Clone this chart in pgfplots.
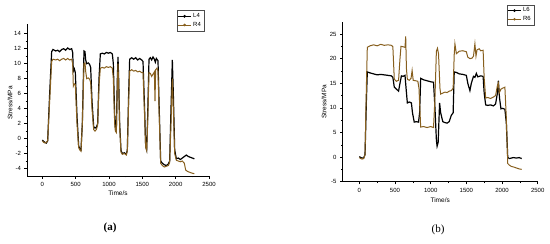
\documentclass[border=0pt]{standalone}
\usepackage{pgfplots}
\pgfplotsset{compat=1.18}
\usepackage{fontspec}
\setmainfont{Liberation Sans}
\newfontfamily\seriffont{Liberation Serif}
\definecolor{rbrown}{RGB}{135,95,30}
\pgfplotsset{
  common/.style={
    scale only axis,
    axis x line*=bottom, axis y line*=left,
    tick align=outside,
    major tick length=2.6pt, minor tick length=1.4pt,
    minor x tick num=1, minor y tick num=1,
    tick style={black, line width=0.5pt},
    axis line style={black, line width=0.6pt},
    ticklabel style={font=\fontsize{6}{7}\selectfont},
    /pgf/number format/assume math mode=true,
    /pgf/number format/1000 sep={},
    xlabel={Time/s}, ylabel={Stress/MPa},
    label style={font=\fontsize{6.5}{7}\selectfont},
    legend style={font=\fontsize{6}{6.5}\selectfont, draw=black!70, line width=0.4pt,
      inner sep=1pt, row sep=-1pt, cells={anchor=west}},
    legend cell align=left,
    legend image code/.code={\draw[#1,line width=0.5pt] (0,0) -- (0.45cm,0); \fill[#1] (0.225cm,0) circle (0.7pt);},
  },
  lser/.style={black, line width=1.2pt, mark=none},
  rser/.style={rbrown, line width=1.0pt, mark=none},
}
\begin{document}
\begin{tikzpicture}
\path[use as bounding box] (0,0) rectangle (550pt,244pt);
% ---------- (a)
\begin{axis}[common,
  at={(27pt,68pt)}, anchor=south west,
  width=182pt, height=152pt,
  xmin=-230, xmax=2500, ymin=-5, ymax=15.3,
  xtick={0,500,...,2500}, ytick={-4,-2,...,14},
  xlabel style={at={(axis description cs:0.5,-0.112)}, anchor=center},
  ylabel style={at={(axis description cs:-0.093,0.48)}, anchor=center},
  legend style={at={(rel axis cs:0.973,1.09)}, anchor=north east},
]
\addplot[lser] coordinates {(0,-0.2)(20,-0.4)(40,-0.5)(60,-0.6)(80,-0.3)(110,6)(140,11.6)(160,11.9)(200,11.7)(230,11.8)(260,11.6)(290,11.9)(320,12.0)(350,11.8)(380,12.1)(410,11.9)(440,12.0)(455,11.5)(465,9.0)(480,9.3)(495,8.8)(520,3)(545,-1.0)(560,-1.3)(580,-1.5)(600,2)(625,11.7)(640,11.6)(650,10.5)(665,10.0)(690,10.1)(710,9.9)(725,9.5)(745,5)(770,1.6)(790,1.4)(810,1.5)(830,2)(850,8)(870,11.3)(900,11.4)(930,11.3)(960,11.5)(990,11.4)(1020,11.5)(1050,11.3)(1065,10)(1085,3)(1095,1.5)(1110,1.2)(1125,8)(1135,10.9)(1145,8)(1160,2)(1180,-1.6)(1200,-2.0)(1230,-1.9)(1260,-2.1)(1275,-1.5)(1295,6)(1310,10.6)(1340,10.8)(1370,10.6)(1400,10.8)(1430,10.5)(1460,10.7)(1490,10.5)(1510,10.3)(1530,5)(1550,-1.0)(1565,-1.5)(1580,3)(1600,10.6)(1620,10.8)(1640,10.5)(1660,10.9)(1680,10.6)(1695,10.2)(1710,10.7)(1735,10.4)(1750,5)(1775,-3.0)(1800,-3.3)(1830,-3.5)(1860,-3.6)(1890,-3.4)(1910,-3.0)(1930,4)(1950,10.5)(1965,6)(1985,-1.5)(2010,-2.7)(2040,-2.6)(2070,-2.8)(2100,-2.6)(2130,-2.4)(2160,-2.2)(2190,-2.4)(2220,-2.5)(2250,-2.6)(2280,-2.7)};
\addlegendentry{L4}
\addplot[rser] coordinates {(0,-0.3)(20,-0.5)(40,-0.6)(60,-0.5)(80,-0.3)(110,5)(140,10.3)(160,10.6)(200,10.5)(230,10.6)(260,10.4)(290,10.6)(320,10.7)(350,10.5)(380,10.7)(410,10.5)(440,10.6)(455,10)(465,7.0)(480,7.3)(495,7.2)(520,2)(545,-1.2)(560,-1.5)(580,-1.7)(600,2)(625,10.0)(640,10.1)(650,9)(665,8.0)(690,8.1)(710,7.9)(725,7.5)(745,4)(770,1.2)(790,1.0)(810,1.2)(830,1.8)(850,7)(870,9.4)(900,9.5)(930,9.4)(960,9.6)(990,9.5)(1020,9.6)(1050,9.4)(1065,8)(1085,2)(1095,1.0)(1110,0.8)(1125,7)(1135,10.0)(1145,7)(1160,1.5)(1180,-1.8)(1200,-2.1)(1230,-2.0)(1260,-2.2)(1275,-1.6)(1295,5)(1310,9.0)(1340,9.2)(1370,9.0)(1400,9.1)(1430,8.9)(1460,9.0)(1490,8.8)(1510,8.8)(1530,4)(1550,-1.2)(1565,-1.6)(1580,2)(1600,8.8)(1620,8.7)(1640,8.3)(1660,8.6)(1680,8.9)(1690,5.0)(1700,9.2)(1720,9.4)(1735,9.0)(1750,4)(1775,-3.3)(1800,-3.6)(1830,-3.8)(1860,-3.7)(1890,-3.6)(1910,-3.2)(1930,2)(1950,8.0)(1965,4)(1985,-2)(2010,-2.9)(2040,-3.0)(2070,-3.1)(2100,-3.0)(2130,-3.3)(2150,-4.2)(2180,-4.4)(2210,-4.5)(2240,-4.6)(2280,-4.7)};
\addlegendentry{R4}
\end{axis}
\node[font=\seriffont\bfseries\fontsize{11}{12}\selectfont] at (110pt,16pt) {(a)};
% ---------- (b)
\begin{axis}[common,
  at={(342.7pt,62.3pt)}, anchor=south west,
  width=195pt, height=160pt,
  xmin=-233, xmax=2500, ymin=-5, ymax=27.5,
  xtick={0,500,...,2500}, ytick={-5,0,...,25},
  xlabel style={at={(axis description cs:0.5,-0.114)}, anchor=center},
  ylabel style={at={(axis description cs:-0.096,0.5)}, anchor=center},
  legend style={at={(rel axis cs:0.981,1.107)}, anchor=north east},
]
\addplot[lser] coordinates {(0,0.1)(20,-0.1)(40,-0.2)(60,-0.2)(80,0.5)(100,12)(112,17.3)(150,17.1)(200,16.9)(250,16.7)(300,16.8)(350,16.7)(400,16.6)(450,16.5)(470,16.2)(490,14.2)(520,13.8)(550,13.4)(570,15)(590,16.5)(615,16.4)(640,16.6)(655,14)(673,11.0)(700,11.2)(730,11.0)(745,9)(770,7.1)(800,7.2)(830,7.1)(845,9)(860,16.0)(900,15.7)(950,15.5)(1000,15.3)(1040,15.2)(1060,10)(1080,3.5)(1090,2.2)(1105,3)(1125,11)(1140,9)(1170,7.2)(1200,7.0)(1230,6.9)(1260,7.2)(1290,8.5)(1315,9)(1330,17.3)(1360,17.2)(1400,16.9)(1450,16.8)(1500,16.6)(1520,15)(1550,13.5)(1570,15)(1600,16.4)(1620,16.2)(1640,17)(1660,16.3)(1700,16.5)(1735,16.4)(1750,13)(1771,10.6)(1800,10.5)(1840,10.6)(1880,10.4)(1910,10.8)(1935,13)(1949,15.5)(1965,12)(1985,9.8)(2010,9.9)(2040,9.7)(2060,7)(2080,0)(2100,-0.3)(2130,-0.2)(2160,-0.1)(2200,-0.2)(2240,-0.1)(2276,-0.3)};
\addlegendentry{L6}
\addplot[rser] coordinates {(0,-0.1)(20,-0.3)(40,-0.4)(60,-0.3)(80,0.5)(100,15)(112,22.3)(150,22.6)(200,22.8)(250,22.6)(300,22.9)(350,22.7)(400,22.8)(450,22.7)(470,22.4)(490,15.8)(520,15.4)(550,15.6)(570,20)(584,22.5)(615,22.4)(640,22.3)(650,24.5)(660,18)(673,15.8)(700,15.6)(725,16)(740,17.6)(755,15.6)(790,15.5)(820,15.4)(836,14)(860,6.1)(900,6.2)(950,6.0)(1000,6.2)(1040,6.0)(1060,12)(1080,21.5)(1095,22.1)(1110,21)(1130,14)(1140,12.8)(1170,13.0)(1200,13.2)(1230,13.1)(1260,13.4)(1290,13.5)(1315,14)(1330,20.8)(1340,23)(1360,21.0)(1400,21.5)(1450,21.6)(1500,21.4)(1520,20.3)(1550,20.0)(1580,20.1)(1600,20.5)(1620,23)(1635,20.5)(1650,21.8)(1680,22)(1700,21.6)(1735,21.7)(1750,16)(1771,12.0)(1800,12.1)(1840,11.9)(1880,12.2)(1910,12.5)(1935,14.5)(1949,15)(1960,13)(1985,13.8)(2010,14.0)(2040,14.2)(2060,8)(2080,-1.3)(2100,-1.6)(2130,-1.9)(2160,-2.0)(2200,-2.2)(2240,-2.4)(2276,-2.5)};
\addlegendentry{R6}
\end{axis}
\node[font=\seriffont\fontsize{11}{12}\selectfont] at (438pt,14pt) {(b)};
\end{tikzpicture}
\end{document}
